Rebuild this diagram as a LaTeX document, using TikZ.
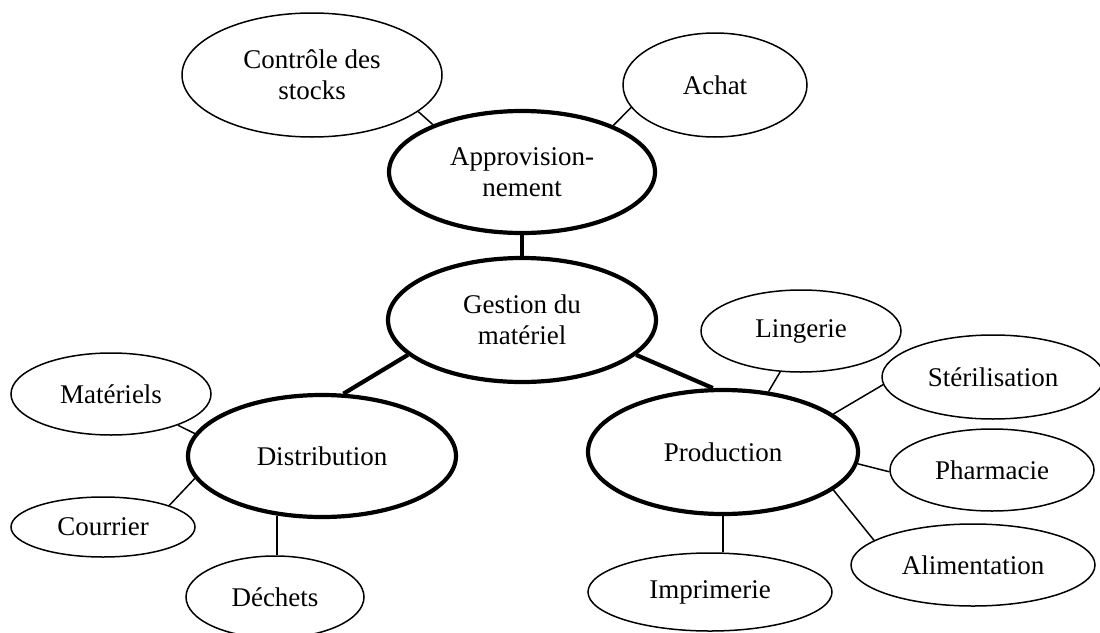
\documentclass[tikz,border=0pt]{standalone}
\usepackage{fontspec}
\setmainfont{Liberation Serif}
\usetikzlibrary{shapes.geometric}
\begin{document}
\begin{tikzpicture}[x=1pt,y=-1pt,
  bub/.style={ellipse,draw,line width=1.5pt,inner sep=0pt,align=center,
    font=\fontsize{27}{31}\selectfont},
  hub/.style={bub,line width=4.2pt},
  lnk/.style={line width=1.5pt},
  hublnk/.style={line width=4.2pt}]
\useasboundingbox (0,0) rectangle (1100,632);
\fill[white] (0,0) rectangle (1100,632);
% central hubs
\node[hub,minimum width=266,minimum height=122] (appro) at (522,172) {Approvision-\\nement};
\node[hub,minimum width=268,minimum height=124] (gest) at (522,320) {Gestion du\\matériel};
\node[hub,minimum width=268,minimum height=122] (dist) at (322,456) {Distribution};
\node[hub,minimum width=270,minimum height=124] (prod) at (723,452) {Production};
% leaves
\node[bub,minimum width=260,minimum height=124] (ctrl) at (312,75) {Contrôle des\\stocks};
\node[bub,minimum width=184,minimum height=104] (achat) at (715,85) {Achat};
\node[bub,minimum width=200,minimum height=82] (mat) at (111,394) {Matériels};
\node[bub,minimum width=184,minimum height=60] (cour) at (103,527) {Courrier};
\node[bub,minimum width=178,minimum height=82] (dech) at (275,597) {Déchets};
\node[bub,minimum width=200,minimum height=82] (ling) at (801,331) {Lingerie};
\node[bub,minimum width=222,minimum height=84] (ster) at (993,377) {Stérilisation};
\node[bub,minimum width=204,minimum height=82] (phar) at (992,470) {Pharmacie};
\node[bub,minimum width=244,minimum height=82] (alim) at (973,565) {Alimentation};
\node[bub,minimum width=244,minimum height=78] (impr) at (710,592) {Imprimerie};
% hub connectors
\draw[hublnk] (appro.south) -- (gest.north);
\draw[hublnk] (gest.197.5) -- (dist.71.6);
\draw[hublnk] (gest.-17.2) -- (prod.99.9);
% leaf connectors
\draw[lnk] (ctrl.-19.9) -- (appro.152.9);
\draw[lnk] (achat.195.8) -- (appro.27.6);
\draw[lnk] (mat.-25.2) -- (dist.170.6);
\draw[lnk] (cour.18.2) -- (dist.190.9);
\draw[lnk] (dist.233) -- (dist.233 |- dech.north);
\draw[lnk] (ling.243.4) -- (prod.53.7);
\draw[lnk] (ster.184.1) -- (prod.19.7);
\draw[lnk] (phar.181) -- (prod.-5.2);
\draw[lnk] (alim.166.9) -- (prod.-19.1);
\draw[lnk] (prod.south) -- (prod.south |- impr.north);
\end{tikzpicture}
\end{document}
